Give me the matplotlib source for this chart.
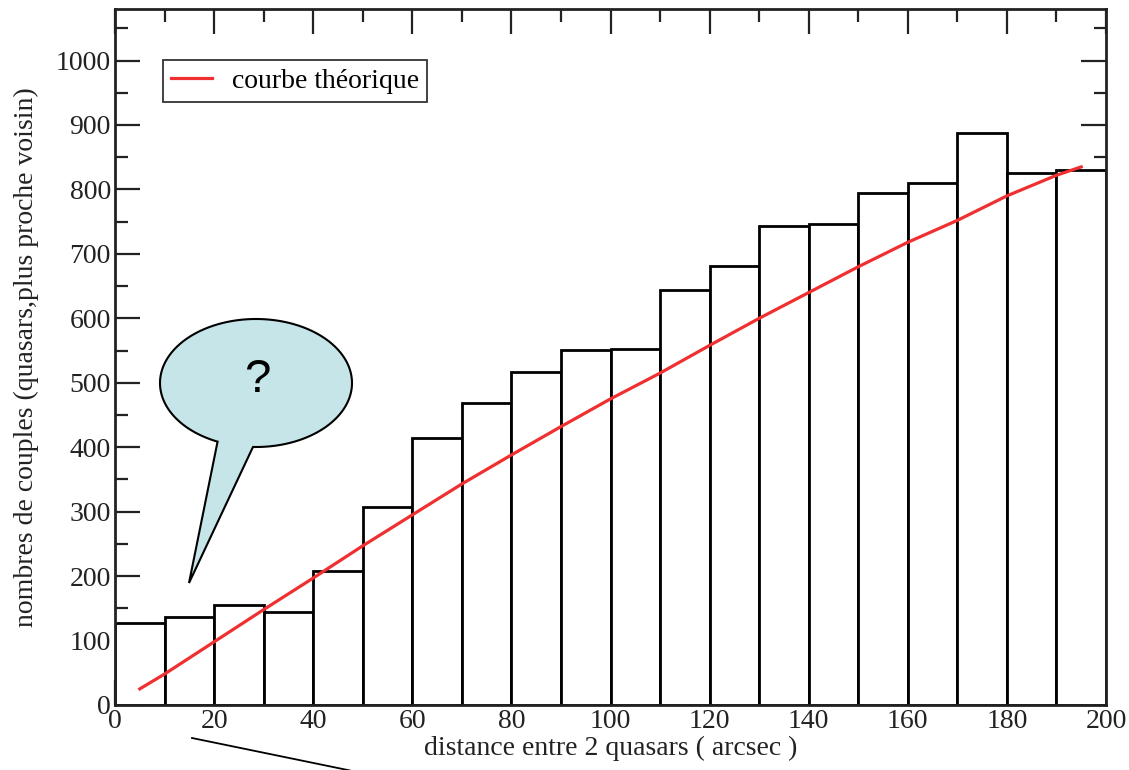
import numpy as np
import matplotlib
matplotlib.use("Agg")
import matplotlib.pyplot as plt
from matplotlib.path import Path
from matplotlib.patches import PathPatch
from matplotlib.lines import Line2D
from matplotlib.ticker import MultipleLocator

# ---- data ----
bin_left = [0, 10, 20, 30, 40, 50, 60, 70, 80, 90, 100, 110, 120, 130, 140, 150, 160, 170, 180, 190]
counts = [127, 137, 155, 145, 208, 307, 415, 468, 516, 551, 553, 644, 681, 743, 746, 794, 810, 888, 826, 830]
theo_x = [5, 10, 20, 30, 40, 50, 60, 70, 80, 90, 100, 110, 120, 130, 140, 150, 160, 170, 180, 190, 195]
theo_y = [25, 48, 98, 148, 197, 247, 295, 343, 388, 432, 475, 515, 558, 600, 640, 680, 718, 752, 790, 822, 835]
legend_label = "courbe théorique"
xlabel = "distance entre 2 quasars ( arcsec )"
ylabel = "nombres de couples (quasars,plus proche voisin)"

W, H = 1129, 770
fig = plt.figure(figsize=(W / 100, H / 100), dpi=100)
ax = fig.add_axes([115 / W, 1 - 705 / H, (1106 - 115) / W, (705 - 9) / H])

serif = ["Liberation Serif", "DejaVu Serif"]
FS = 20

ax.bar(bin_left, counts, width=10, align="edge", color="white", edgecolor="black", linewidth=2.0, zorder=2)
ax.plot(theo_x, theo_y, color="#f03030", lw=2.3, zorder=3, label=legend_label)

ax.set_xlim(0, 200)
ax.set_ylim(0, 1080)
ax.xaxis.set_major_locator(MultipleLocator(20))
ax.xaxis.set_minor_locator(MultipleLocator(10))
ax.yaxis.set_major_locator(MultipleLocator(100))
ax.yaxis.set_minor_locator(MultipleLocator(50))
ax.tick_params(which="both", direction="in", top=True, right=True, width=1.6, color="#222222")
ax.tick_params(which="major", length=18, labelsize=FS, pad=3, labelcolor="#222222")
ax.tick_params(which="minor", length=9)
for lab in ax.get_xticklabels() + ax.get_yticklabels():
    lab.set_family(serif)
for sp in ax.spines.values():
    sp.set_linewidth(2.0)
    sp.set_color("#222222")

ax.set_xlabel(xlabel, fontsize=FS, family=serif, color="#222222", labelpad=1)
ax.set_ylabel(ylabel, fontsize=FS, family=serif, color="#222222", labelpad=12)

leg = ax.legend(loc="upper left", bbox_to_anchor=((163 - 115) / 991, (705 - 60) / 696),
                borderaxespad=0, fancybox=False, edgecolor="#333333", framealpha=1,
                prop={"family": serif, "size": FS}, handlelength=1.45, handletextpad=0.72,
                borderpad=0.3)
leg.get_frame().set_linewidth(1.3)

# ---- speech bubble (figure pixel coordinates) ----
def px(x, y):
    return (x / W, 1 - y / H)

cx, cy, a, b = 256, 383, 96, 64
t1 = np.deg2rad(113.6)
t2 = np.deg2rad(91.8 + 360)
th = np.linspace(t1, t2, 200)
pts = [px(cx + a * np.cos(t), cy + b * np.sin(t)) for t in th]
pts.append(px(189, 583))
pts.append(pts[0])
codes = [Path.MOVETO] + [Path.LINETO] * (len(pts) - 2) + [Path.CLOSEPOLY]
bubble = PathPatch(Path(pts, codes), facecolor="#c5e5e8", edgecolor="black", lw=1.5,
                   transform=fig.transFigure, zorder=10)
fig.add_artist(bubble)
fig.text(*px(257, 380), "?", fontsize=34, family=["Liberation Sans", "DejaVu Sans"],
         ha="center", va="center", zorder=11)

fig.add_artist(Line2D([192 / W, 350 / W], [1 - 738 / H, 1 - 770.5 / H], color="black", lw=1.3,
                      transform=fig.transFigure))

fig.savefig("out.png", dpi=100)
